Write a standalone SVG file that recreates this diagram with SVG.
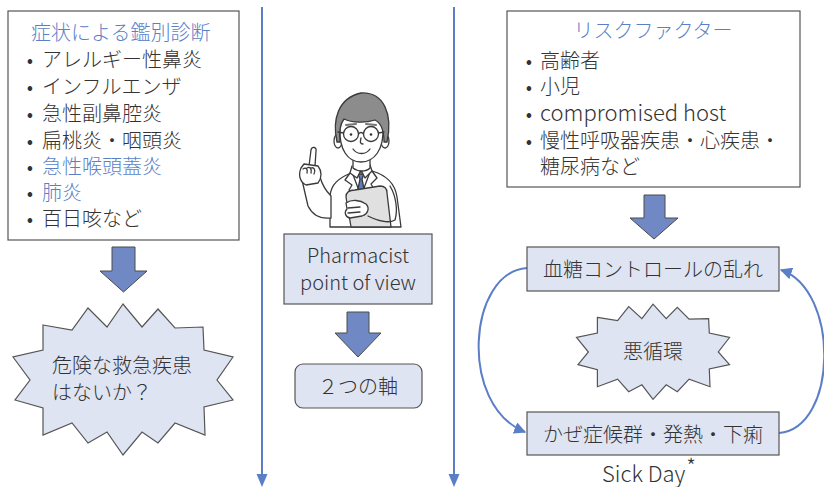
<svg xmlns="http://www.w3.org/2000/svg" width="824" height="487" viewBox="0 0 824 487">
  <style>
    text { font-family: "Noto Sans CJK JP", "Noto Sans", sans-serif; font-size: 20px; font-weight: 300; fill: #333; }
    .blue { fill: #5b7fc7; }
    .mid { text-anchor: middle; }
    .latin { font-size: 22px; }
    .panel { fill: #fff; stroke: #555; stroke-width: 1.2; }
    .node { fill: #dfe4f2; stroke: #555; stroke-width: 1.2; }
    .block { fill: #7089c5; stroke: #4a4a4a; stroke-width: 1; }
    .axis { stroke: #5b7fc7; stroke-width: 2; fill: none; }
    .loop { stroke: #5b7fc7; stroke-width: 2; fill: none; marker-end: url(#head); }
    .tip { fill: #5b7fc7; }
  </style>
  <defs>
    <marker id="head" viewBox="0 0 10 10" refX="9" refY="5" markerWidth="6" markerHeight="6" orient="auto">
      <path d="M0,0 L10,5 L0,10 Z" fill="#5b7fc7"/>
    </marker>
  </defs>

  <rect width="824" height="487" fill="#fff"/>

  <!-- connectors -->
  <g id="connectors">
    <line class="axis" x1="262" y1="7" x2="262" y2="476"/>
    <polygon class="tip" points="256.5,474 267.5,474 262,487"/>
    <line class="axis" x1="454" y1="7" x2="454" y2="476"/>
    <polygon class="tip" points="448.5,474 459.5,474 454,487"/>

    <polygon class="block" points="112,247 135,247 135,271 147,271 123.5,292 100,271 112,271"/>
    <polygon class="block" points="347,312 369,312 369,333 381,333 358,357 335,333 347,333"/>
    <polygon class="block" points="644,195 665,195 665,218 678,218 654,239 630,218 644,218"/>

    <path class="loop" d="M527,268 C468,272 458,405 525,432"/>
    <path class="loop" d="M779,433 C838,428 840,290 781,270"/>
  </g>

  <!-- differential diagnosis by symptom -->
  <g id="symptoms">
    <rect class="panel" x="8" y="11" width="231" height="229"/>
    <text class="blue" x="31" y="40">症状による鑑別診断</text>
    <text y="67"><tspan class="mid" x="30">•</tspan><tspan x="42">アレルギー性鼻炎</tspan></text>
    <text y="94"><tspan class="mid" x="30">•</tspan><tspan x="42">インフルエンザ</tspan></text>
    <text y="121"><tspan class="mid" x="30">•</tspan><tspan x="42">急性副鼻腔炎</tspan></text>
    <text y="148"><tspan class="mid" x="30">•</tspan><tspan x="42">扁桃炎・咽頭炎</tspan></text>
    <text y="174"><tspan class="mid" x="30">•</tspan><tspan class="blue" x="42">急性喉頭蓋炎</tspan></text>
    <text y="200"><tspan class="mid" x="30">•</tspan><tspan class="blue" x="42">肺炎</tspan></text>
    <text y="226"><tspan class="mid" x="30">•</tspan><tspan x="42">百日咳など</tspan></text>
  </g>

  <!-- emergency check burst -->
  <g id="emergency">
    <polygon class="node" points="43,325 72,330 88,308 107,327 123,304 142,327 158,309 175,328 203,327 204,350 233,357 217,380 233,400 204,407 205,435 175,423 158,443 142,432 123,455 107,432 88,443 72,423 43,435 43,408 15,400 30,380 13,357 43,350"/>
    <text x="52" y="373">危険な救急疾患</text>
    <text x="52" y="400">はないか？</text>
  </g>

  <!-- pharmacist figure -->
  <g id="pharmacist" stroke="#3a3a3a" stroke-width="1.3" stroke-linejoin="round" stroke-linecap="round">
    <!-- coat -->
    <path d="M330,227 L330,196 C331,184 339,178 351,173 L372,171 C386,175 395,183 397,197 L401,227 Z" fill="#fff"/>
    <!-- shirt and tie -->
    <path d="M352,172 L361,196 L370,172 Z" fill="#fff"/>
    <path d="M358,174 L364,174 L362,179 L365,194 L361,199 L357,194 L360,179 Z" fill="#5a7cc3"/>
    <!-- lapels -->
    <path d="M350,173 L345,180 L352,185 L349,190 L361,200" fill="none"/>
    <path d="M372,171 L377,178 L371,184 L374,189 L362,200" fill="none"/>
    <path d="M352,166 L350,173 L357,178 L361,170 L365,178 L372,171 L370,165" fill="#fff"/>
    <!-- raised arm -->
    <path d="M302,180 L308,206 C313,216 322,219 331,218 L331,196 C326,191 322,184 320,177 Z" fill="#fff"/>
    <!-- raised hand -->
    <path d="M309,166 L311,150 C312,146 317,147 316,151 L315,166" fill="#fff"/>
    <path d="M301,168 C298,175 300,182 306,185 L318,183 C322,178 322,171 318,166 L304,164 Z" fill="#fff"/>
    <path d="M303,169 C306,167 308,169 307,173 M307,168 C310,166 312,169 311,173 M311,168 C314,167 316,170 314,174" fill="none"/>
    <!-- clipboard -->
    <path d="M346,197 C346,192 350,190 355,190 L380,186 C385,186 387,188 387,193 L391,227 L351,227 Z" fill="#e0e0e0"/>
    <!-- right arm and hand -->
    <path d="M390,186 C396,196 398,210 395,220 C390,223 380,222 368,216" fill="none"/>
    <path d="M346,203 C352,199 360,200 366,204 C370,208 368,214 362,216 L350,218 C345,217 344,212 347,209 Z" fill="#fff"/>
    <path d="M348,208 L360,207 M348,213 L360,212" fill="none"/>
    <!-- neck -->
    <path d="M353,155 L353,168 C358,172 366,172 370,168 L370,155" fill="#fff"/>
    <!-- ears -->
    <ellipse cx="338" cy="141" rx="4" ry="7" fill="#fff"/>
    <ellipse cx="385" cy="141" rx="4" ry="7" fill="#fff"/>
    <!-- face -->
    <path d="M340,128 C339,150 348,162 361,162 C374,162 384,150 383,128 C383,118 374,114 361,114 C348,114 340,118 340,128 Z" fill="#fff"/>
    <!-- hair -->
    <path d="M337,142 C332,120 338,98 361,93 C384,92 393,114 387,142 L384,142 C384,130 381,123 375,120 C366,123 352,123 344,119 C340,124 339,132 340,142 Z" fill="#8c8c8c"/>
    <!-- brows -->
    <path d="M346,125 L356,124 M366,124 L376,125" stroke="#777" stroke-width="2" fill="none"/>
    <!-- glasses -->
    <circle cx="351" cy="134" r="7.5" fill="none"/>
    <circle cx="371" cy="134" r="7.5" fill="none"/>
    <path d="M358.5,134 C360,132 362,132 363.5,134 M343.5,133 L338,132 M378.5,133 L384,132" fill="none"/>
    <circle cx="351" cy="134.5" r="1.3" fill="#333" stroke="none"/>
    <circle cx="371" cy="134.5" r="1.3" fill="#333" stroke="none"/>
    <!-- nose and smile -->
    <path d="M361,138 C360,142 360,144 363,144" fill="none"/>
    <path d="M353,149 C357,155 366,155 370,149" fill="none"/>
  </g>

  <!-- pharmacist label -->
  <g id="viewpoint">
    <rect class="node" x="284" y="234" width="148" height="70"/>
    <text class="mid" x="358" y="263">Pharmacist</text>
    <text class="mid" x="358" y="290">point of view</text>
  </g>

  <g id="two-axes">
    <rect class="node" x="295" y="364" width="127" height="44" rx="8"/>
    <text class="mid" x="358" y="394">２つの軸</text>
  </g>

  <!-- risk factors -->
  <g id="risk-factors">
    <rect class="panel" x="507" y="11" width="293" height="176"/>
    <text class="blue mid" x="653" y="38">リスクファクター</text>
    <text y="68"><tspan class="mid" x="529">•</tspan><tspan x="540">高齢者</tspan></text>
    <text y="94"><tspan class="mid" x="529">•</tspan><tspan x="540">小児</tspan></text>
    <text y="121"><tspan class="mid" x="529">•</tspan><tspan class="latin" x="540">compromised host</tspan></text>
    <text y="148"><tspan class="mid" x="529">•</tspan><tspan x="540">慢性呼吸器疾患・心疾患・</tspan></text>
    <text x="540" y="174">糖尿病など</text>
  </g>

  <g id="glucose">
    <rect class="node" x="527" y="247" width="252" height="44"/>
    <text class="mid" x="653" y="277">血糖コントロールの乱れ</text>
  </g>

  <g id="vicious-circle">
    <polygon class="node" points="597.4,317.4 617.6,320.5 628.7,306.6 641.9,318.6 653,304.1 666.2,318.6 677.3,307.3 689.1,319.2 708.6,318.6 709.3,333.1 729.5,337.5 718.3,352 729.5,364.6 709.3,369 710,386.7 689.1,379.1 677.3,391.7 666.2,384.8 653,399.3 641.9,384.8 628.7,391.7 617.6,379.1 597.4,386.7 597.4,369.6 578,364.6 588.4,352 576.5,337.5 597.4,333.1"/>
    <text class="mid" x="653" y="359">悪循環</text>
  </g>

  <g id="sick-day">
    <rect class="node" x="527" y="412" width="252" height="43"/>
    <text class="mid" x="653" y="442">かぜ症候群・発熱・下痢</text>
    <text class="latin" x="602" y="482">Sick Day<tspan dx="1" dy="-7" font-size="22">*</tspan></text>
  </g>
</svg>
